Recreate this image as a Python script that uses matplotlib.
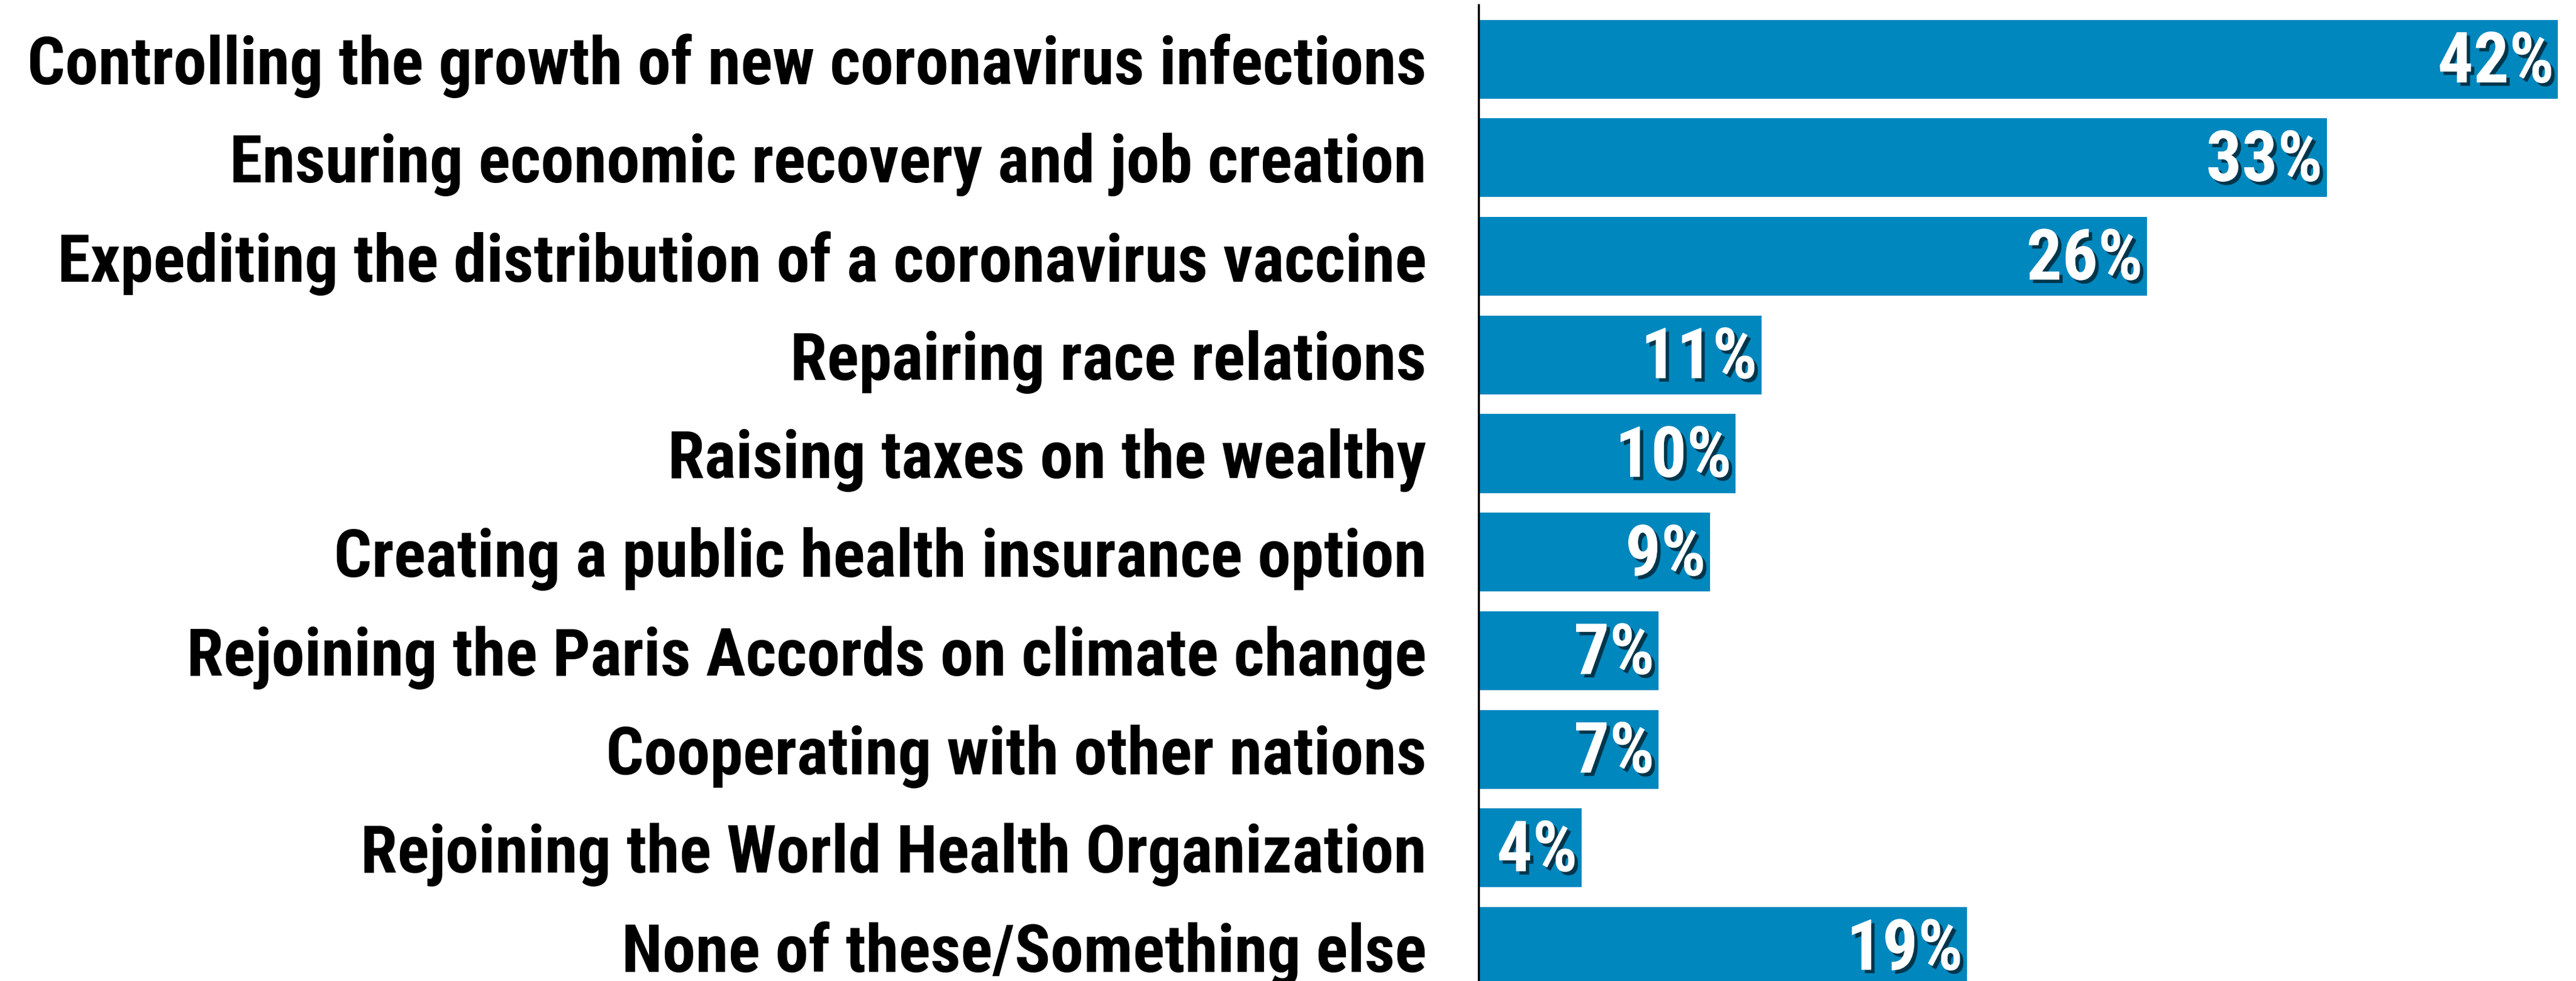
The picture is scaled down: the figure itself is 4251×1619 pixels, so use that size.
import matplotlib
matplotlib.use("Agg")
import matplotlib.pyplot as plt
import matplotlib.patheffects as pe
from matplotlib import font_manager

# datos del grafico (de arriba hacia abajo)
categories = [
    "Controlling the growth of new coronavirus infections",
    "Ensuring economic recovery and job creation",
    "Expediting the distribution of a coronavirus vaccine",
    "Repairing race relations",
    "Raising taxes on the wealthy",
    "Creating a public health insurance option",
    "Rejoining the Paris Accords on climate change",
    "Cooperating with other nations",
    "Rejoining the World Health Organization",
    "None of these/Something else",
]
values = [42, 33, 26, 11, 10, 9, 7, 7, 4, 19]
value_labels = ["42%", "33%", "26%", "11%", "10%", "9%", "7%", "7%", "4%", "19%"]

BAR_COLOR = "#0087be"


def pick_font():
    """Busca una fuente condensada en negrita; si no hay, DejaVu Sans."""
    names = {(f.name, f.stretch) for f in font_manager.fontManager.ttflist}
    for fam in ["Roboto Condensed", "Open Sans Condensed", "Liberation Sans Narrow"]:
        if any(n == fam for n, _ in names):
            return fam, "normal"
    if any(n == "DejaVu Sans" and s in ("condensed", 87.5, "semi-condensed") for n, s in names):
        return "DejaVu Sans", "condensed"
    return "DejaVu Sans", "normal"


FONT, STRETCH = pick_font()

fig = plt.figure(figsize=(42.51, 16.19), dpi=100)
ax = fig.add_axes([0.574, 0.0, 0.426, 0.995])
renderer = fig.canvas.get_renderer()


def fit_size(text, target_px, base=60):
    t = fig.text(0, 0, text, fontsize=base, fontweight="bold", family=FONT, fontstretch=STRETCH)
    w = t.get_window_extent(renderer).width
    t.remove()
    return base * target_px / w


label_size = min(fit_size(categories[0], 2326), 79)
value_size = min(fit_size("42%", 205), 84)

y = list(range(len(categories)))
ax.barh(y, values, height=0.8, color=BAR_COLOR)

ax.set_xlim(0, 42.7)
ax.set_ylim(9.35, -0.55)

ax.set_yticks(y)
ax.set_yticklabels(categories, fontsize=label_size, fontweight="bold",
                   family=FONT, fontstretch=STRETCH)
ax.tick_params(axis="y", length=0, pad=62)
ax.set_xticks([])

for side in ["top", "right", "bottom"]:
    ax.spines[side].set_visible(False)
ax.spines["left"].set_linewidth(2.5)
ax.spines["left"].set_color("black")

# etiquetas de valor con sombra
shadow = [pe.SimplePatchShadow(offset=(4, -4), shadow_rgbFace="black", alpha=0.6), pe.Normal()]
for yi, v, lab in zip(y, values, value_labels):
    ax.text(v - 0.15, yi + 0.04, lab, ha="right", va="center", color="white",
            fontsize=value_size, fontweight="bold", family=FONT, fontstretch=STRETCH,
            path_effects=shadow)

fig.savefig("out.png", dpi=100, facecolor="white")
